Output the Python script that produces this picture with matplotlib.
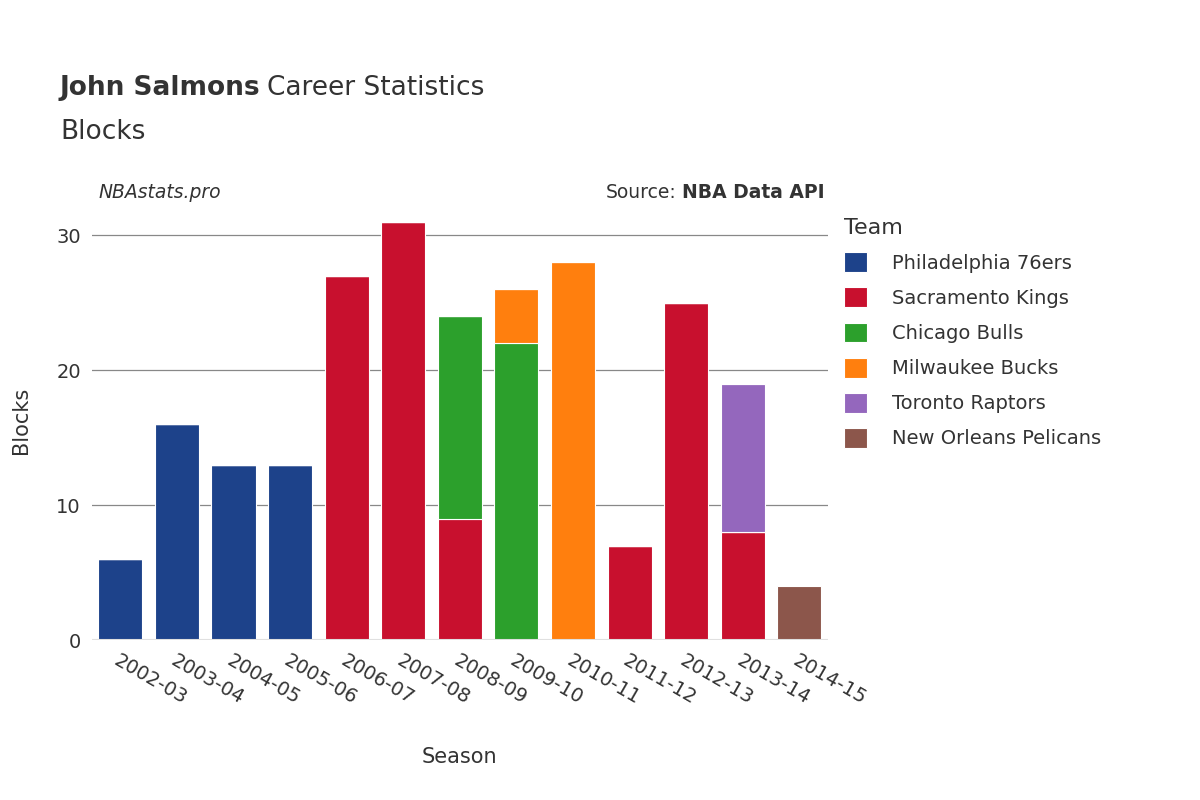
import matplotlib.pyplot as plt
import numpy as np

seasons = ["2002-03", "2003-04", "2004-05", "2005-06", "2006-07", "2007-08", "2008-09",
           "2009-10", "2010-11", "2011-12", "2012-13", "2013-14", "2014-15"]
teams = ["Philadelphia 76ers", "Sacramento Kings", "Chicago Bulls",
         "Milwaukee Bucks", "Toronto Raptors", "New Orleans Pelicans"]
colors = ["#1d428a", "#c8102e", "#2ca02c", "#ff7f0e", "#9467bd", "#8c564b"]
blocks = {
    "Philadelphia 76ers":   [6, 16, 13, 13, 0, 0, 0, 0, 0, 0, 0, 0, 0],
    "Sacramento Kings":     [0, 0, 0, 0, 27, 31, 9, 0, 0, 7, 25, 8, 0],
    "Chicago Bulls":        [0, 0, 0, 0, 0, 0, 15, 22, 0, 0, 0, 0, 0],
    "Milwaukee Bucks":      [0, 0, 0, 0, 0, 0, 0, 4, 28, 0, 0, 0, 0],
    "Toronto Raptors":      [0, 0, 0, 0, 0, 0, 0, 0, 0, 0, 0, 11, 0],
    "New Orleans Pelicans": [0, 0, 0, 0, 0, 0, 0, 0, 0, 0, 0, 0, 4],
}

fig = plt.figure(figsize=(12, 8), dpi=100)
ax = fig.add_axes([0.0767, 0.2, 0.613, 0.55])
x = np.arange(len(seasons))
bottom = np.zeros(len(seasons))
handles = []
for team, color in zip(teams, colors):
    vals = np.array(blocks[team], dtype=float)
    h = ax.bar(x, vals, width=0.78, bottom=bottom, color=color,
               edgecolor="white", linewidth=0.8, zorder=3)
    handles.append(h)
    bottom += vals

ax.set_xlim(-0.5, len(seasons) - 0.5)
ax.set_ylim(0, 32.6)
ax.set_yticks([0, 10, 20, 30])
ax.grid(True, axis="y", color="#888888", linewidth=0.9, zorder=0)
for s in ax.spines.values():
    s.set_visible(False)
ax.axhline(0, color="#e0e0e0", linewidth=1.5, zorder=4)
ax.tick_params(axis="both", length=0, labelsize=14, labelcolor="#333333", pad=8)
ax.set_xticks(x)
ax.set_xticklabels(seasons, rotation=-30, ha="left", rotation_mode="anchor")
ax.set_xlabel("Season", fontsize=15, color="#333333", labelpad=28)
ax.set_ylabel("Blocks", fontsize=15, color="#333333", labelpad=18)

t = fig.text(0.05, 0.89, "John Salmons", fontsize=19, fontweight="bold",
             color="#333333", va="center")
fig.canvas.draw()
bb = t.get_window_extent()
fig.text(bb.x1 / 1200 + 0.005, 0.89, "Career Statistics", fontsize=19,
         color="#333333", va="center")
fig.text(0.05, 0.835, "Blocks", fontsize=19, color="#333333", va="center")
fig.text(0.082, 0.76, "NBAstats.pro", fontsize=13.5, style="italic",
         color="#333333", va="center")
s = fig.text(0.687, 0.76, "NBA Data API", fontsize=13.5, fontweight="bold",
             color="#333333", va="center", ha="right")
fig.canvas.draw()
bb = s.get_window_extent()
fig.text(bb.x0 / 1200 - 0.004, 0.76, "Source:", fontsize=13.5,
         color="#333333", va="center", ha="right")

leg = fig.legend(handles, teams, loc="upper left", bbox_to_anchor=(0.695, 0.74),
                 frameon=False, fontsize=14, title="Team", title_fontsize=16,
                 handlelength=1.2, handleheight=1.2, labelspacing=0.75,
                 handletextpad=1.3, borderpad=0)
leg._legend_box.align = "left"
for txt in leg.get_texts():
    txt.set_color("#333333")
leg.get_title().set_color("#333333")
for p in leg.legend_handles:
    p.set_edgecolor("white")

fig.savefig("out.png", dpi=100)
